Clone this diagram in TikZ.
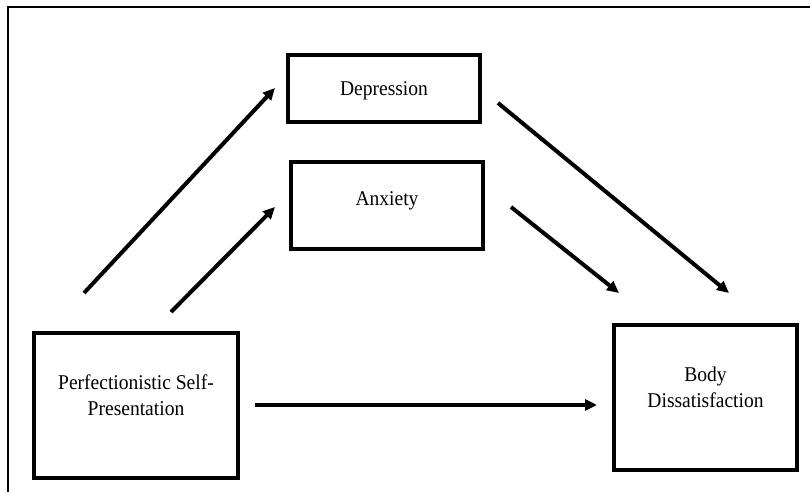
\documentclass[tikz,border=0pt]{standalone}
\usepackage{fontspec}
\setmainfont[FakeStretch=0.93]{Liberation Serif}
\usetikzlibrary{arrows.meta}
\tikzset{
  box/.style={draw,line width=4.5pt,align=center,text height=14pt,
    font=\fontsize{21}{26}\selectfont},
  arr/.style={line width=4pt,-{Triangle[length=12pt,width=11pt]}}
}
\begin{document}
\begin{tikzpicture}[x=1pt,y=-1pt]
\useasboundingbox (0,0) rectangle (810,492);
\draw[line width=2.2pt] (8,492)--(8,6.7)--(812,6.7);
\node[box,minimum width=192pt,minimum height=67pt,text depth=0pt] (dep) at (384,88.5) {Depression};
\node[box,minimum width=192pt,minimum height=87pt,text depth=14pt] (anx) at (387,205.5) {Anxiety};
\node[box,minimum width=204pt,minimum height=145pt,text height=40pt,text depth=21pt] (psp) at (136,405.5) {Perfectionistic Self-\\Presentation};
\node[box,minimum width=183pt,minimum height=145pt,text height=40pt,text depth=19.6pt] (body) at (705.5,397.5) {Body\\Dissatisfaction};
% free ends of the paths
\coordinate (psp1) at (84,293); \coordinate (dep1) at (275,88);
\coordinate (psp2) at (171,312); \coordinate (anx1) at (275,207);
\coordinate (dep2) at (498,103); \coordinate (body1) at (729,293);
\coordinate (anx2) at (511,207); \coordinate (body2) at (619,293);
\coordinate (psp3) at (255,405); \coordinate (body3) at (597,405);
\draw[arr] (psp1)--(dep1); \draw[arr] (psp2)--(anx1);
\draw[arr] (dep2)--(body1); \draw[arr] (anx2)--(body2);
\draw[arr] (psp3)--(body3);
\end{tikzpicture}
\end{document}
